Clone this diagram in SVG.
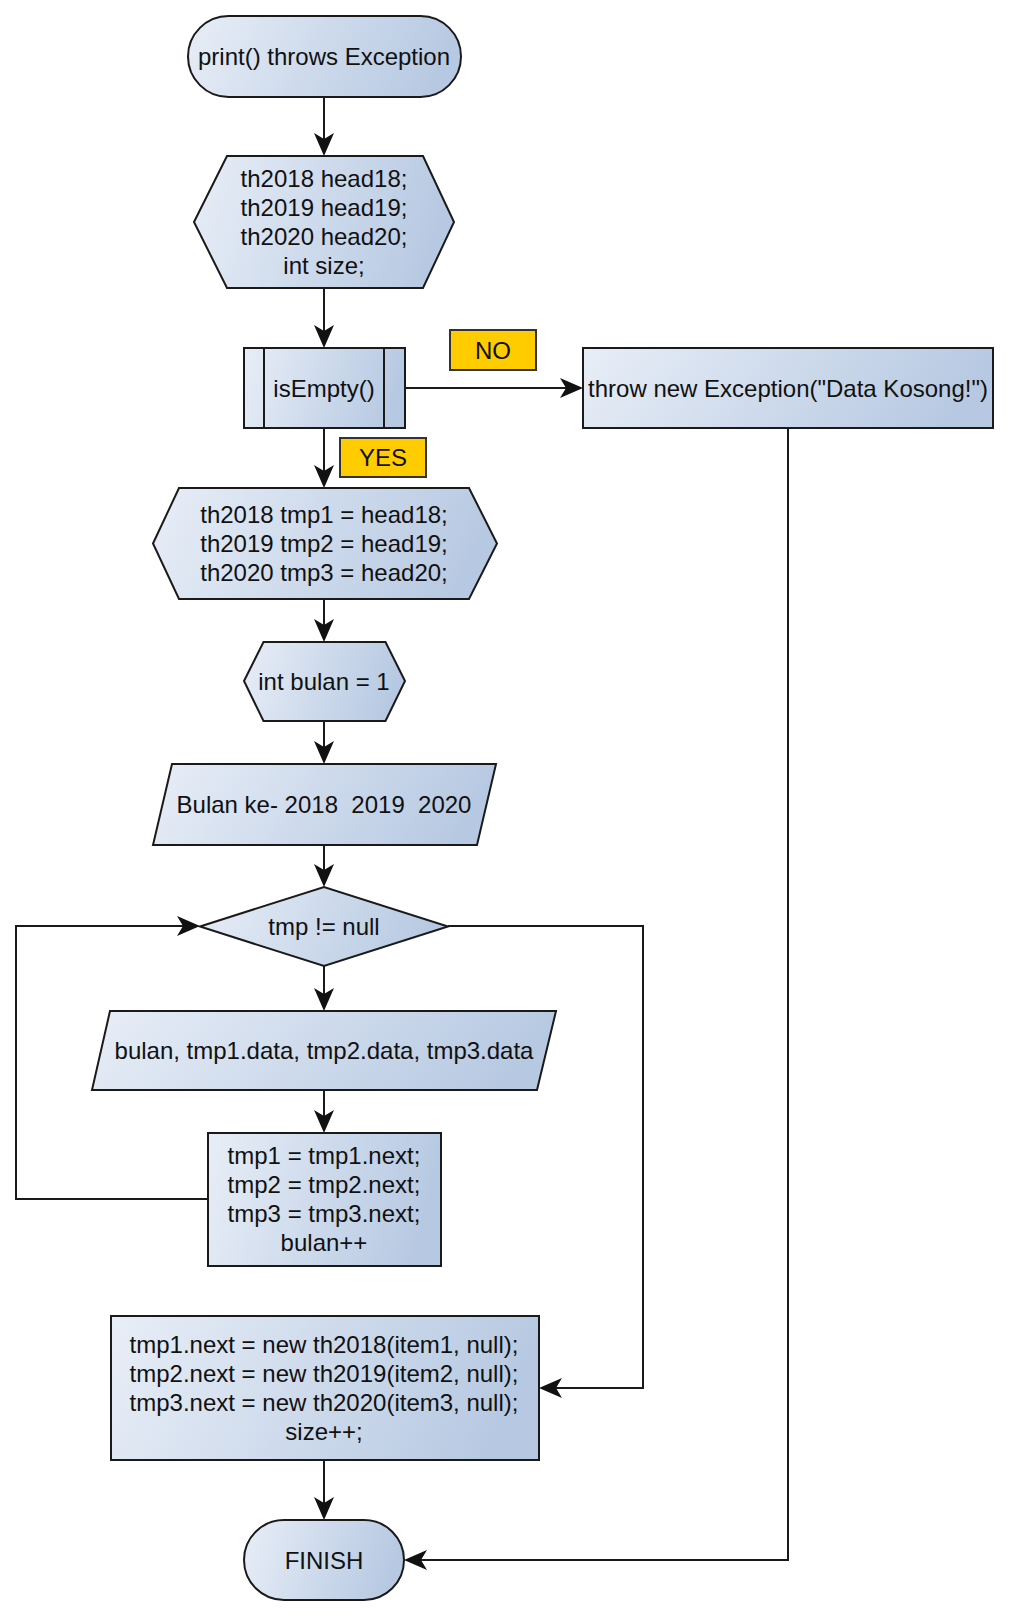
<svg xmlns="http://www.w3.org/2000/svg" width="1010" height="1618" viewBox="0 0 1010 1618">
<style>
.n{stroke:#1a1a1a;stroke-width:2;fill:url(#g)}
.l{stroke:#1a1a1a;stroke-width:2;fill:none}
.t{font-family:"Liberation Sans",Arial,sans-serif;font-size:24px;fill:#111;text-anchor:middle}
.pre{white-space:pre}
.lab{stroke:#333;stroke-width:2;fill:#FFCC00}
.c{fill:none;stroke:#1a1a1a;stroke-width:2;marker-end:url(#a)}
</style>
<defs>
<linearGradient id="g" x1="0" y1="0" x2="1" y2="0.15">
<stop offset="0" stop-color="#E8EEF7"/>
<stop offset="1" stop-color="#B7C9E2"/>
</linearGradient>
<marker id="a" viewBox="-24 -11 25 22" refX="-6" refY="0" markerWidth="25" markerHeight="22" markerUnits="userSpaceOnUse" orient="auto">
<path d="M0,0 L-23,-10 L-17,0 L-23,10 Z" fill="#111"/>
</marker>
</defs>
<rect width="1010" height="1618" fill="#fff"/>
<g id="connectors">
<path class="c" d="M324,97 V150"/>
<path class="c" d="M324,288 V342"/>
<path class="c" d="M405,388 H577"/>
<path class="c" d="M324,428 V482"/>
<path class="c" d="M324,599 V636"/>
<path class="c" d="M324,721 V758"/>
<path class="c" d="M324,845 V881"/>
<path class="c" d="M324,966 V1005"/>
<path class="c" d="M324,1090 V1127"/>
<path class="c" d="M208,1199 H16 V926 H194"/>
<path class="c" d="M448,926 H643 V1388 H545"/>
<path class="c" d="M324,1460 V1514"/>
<path class="c" d="M788,428 V1560 H410"/>
</g>
<g id="start">
<rect class="n" x="188" y="16" width="273" height="81" rx="40.5"/>
<text class="t" x="324" y="65">print() throws Exception</text>
</g>
<g id="decl">
<polygon class="n" points="194,222 227,156 423,156 454,222 423,288 227,288"/>
<text class="t" x="324" y="187">th2018 head18;</text>
<text class="t" x="324" y="216">th2019 head19;</text>
<text class="t" x="324" y="245">th2020 head20;</text>
<text class="t" x="324" y="274">int size;</text>
</g>
<g id="isEmpty">
<rect class="n" x="244" y="348" width="161" height="80"/>
<line class="l" x1="264" y1="348" x2="264" y2="428"/>
<line class="l" x1="384" y1="348" x2="384" y2="428"/>
<text class="t" x="324" y="397">isEmpty()</text>
</g>
<g id="labelNo">
<rect class="lab" x="450" y="330" width="86" height="40"/>
<text class="t" x="493" y="359">NO</text>
</g>
<g id="throw">
<rect class="n" x="583" y="348" width="410" height="80"/>
<text class="t" x="788" y="397">throw new Exception("Data Kosong!")</text>
</g>
<g id="labelYes">
<rect class="lab" x="340" y="438" width="86" height="39"/>
<text class="t" x="383" y="466">YES</text>
</g>
<g id="tmpInit">
<polygon class="n" points="153,543.5 179,488 469,488 497,543.5 469,599 179,599"/>
<text class="t" x="324" y="523">th2018 tmp1 = head18;</text>
<text class="t" x="324" y="552">th2019 tmp2 = head19;</text>
<text class="t" x="324" y="581">th2020 tmp3 = head20;</text>
</g>
<g id="bulanInit">
<polygon class="n" points="244,681 263.5,642 385.5,642 405,681 385.5,721 263.5,721"/>
<text class="t" x="324" y="690">int bulan = 1</text>
</g>
<g id="header">
<polygon class="n" points="172,764 496,764 477,845 153,845"/>
<text class="t pre" x="324" y="813" xml:space="preserve">Bulan ke- 2018  2019  2020</text>
</g>
<g id="cond">
<polygon class="n" points="200,926.5 324,887 448,926.5 324,966"/>
<text class="t" x="324" y="935">tmp != null</text>
</g>
<g id="output">
<polygon class="n" points="110,1011 556,1011 537,1090 92,1090"/>
<text class="t" x="324" y="1059">bulan, tmp1.data, tmp2.data, tmp3.data</text>
</g>
<g id="advance">
<rect class="n" x="208" y="1133" width="233" height="133"/>
<text class="t" x="324" y="1164">tmp1 = tmp1.next;</text>
<text class="t" x="324" y="1193">tmp2 = tmp2.next;</text>
<text class="t" x="324" y="1222">tmp3 = tmp3.next;</text>
<text class="t" x="324" y="1251">bulan++</text>
</g>
<g id="append">
<rect class="n" x="111" y="1316" width="428" height="144"/>
<text class="t" x="324" y="1353">tmp1.next = new th2018(item1, null);</text>
<text class="t" x="324" y="1382">tmp2.next = new th2019(item2, null);</text>
<text class="t" x="324" y="1411">tmp3.next = new th2020(item3, null);</text>
<text class="t" x="324" y="1440">size++;</text>
</g>
<g id="finish">
<rect class="n" x="244" y="1520" width="160" height="80" rx="40"/>
<text class="t" x="324" y="1569">FINISH</text>
</g>
</svg>
